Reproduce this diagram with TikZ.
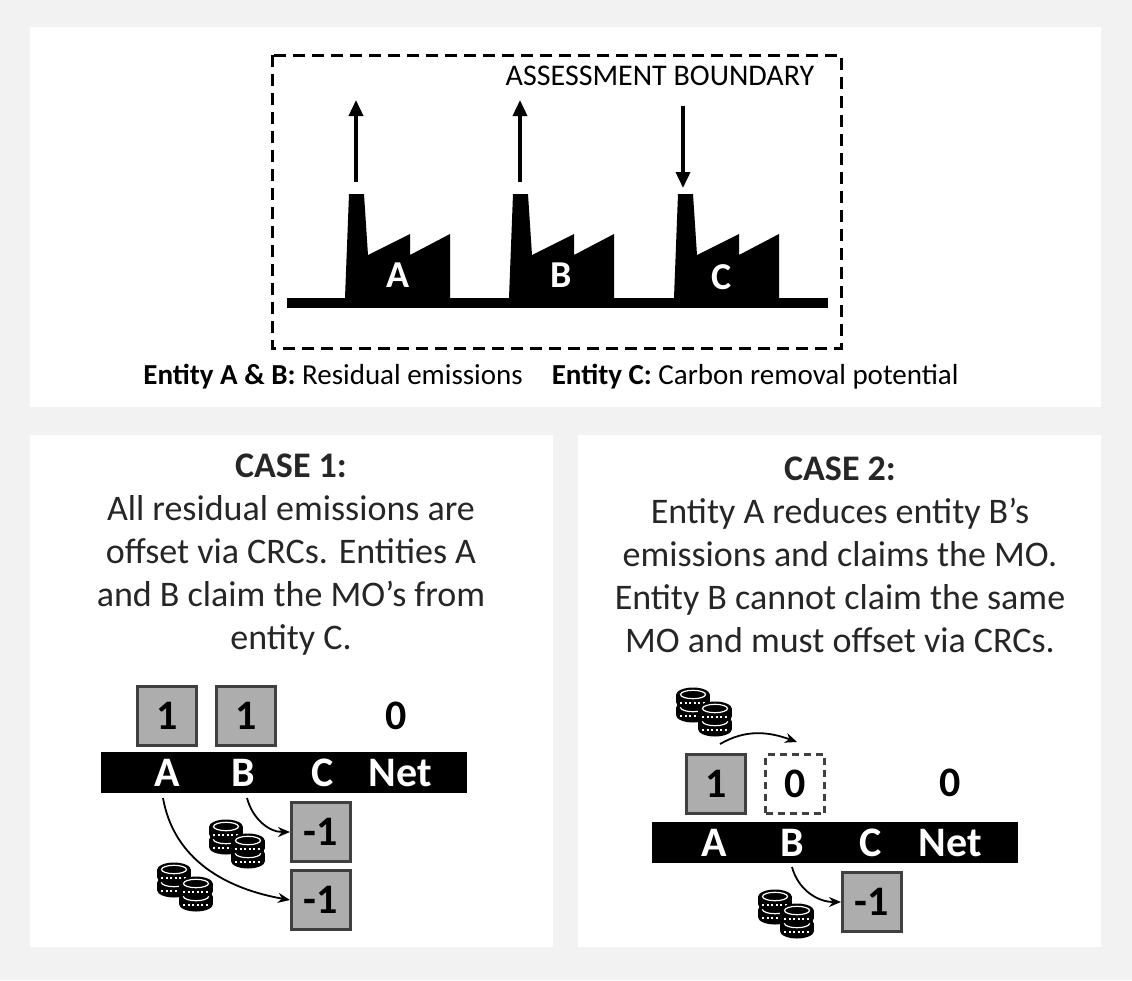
\documentclass[tikz,border=0pt]{standalone}
\usepackage{fontspec}
\setmainfont{Carlito}
\usetikzlibrary{arrows.meta}
\definecolor{bgrey}{HTML}{F2F2F2}
\definecolor{boxgrey}{HTML}{ADADAD}
\definecolor{boxline}{HTML}{404040}
\tikzset{
  panel/.style={fill=white,draw=none},
  val/.style={draw=boxline,line width=3pt,fill=boxgrey,minimum size=59pt,inner sep=0pt,font=\fontsize{42}{42}\selectfont\bfseries},
  valdash/.style={val,fill=white,dash pattern=on 7pt off 5pt,line width=2.4pt},
  bartext/.style={text=white,font=\fontsize{42}{42}\selectfont\bfseries},
  flow/.style={-{Stealth[length=12pt,width=10pt]},line width=1.8pt},
  bigarrow/.style={-{Triangle[length=16pt,width=14pt]},line width=3.5pt},
  casetext/.style={align=center,text=black!85,font=\fontsize{36}{43}\selectfont},
  coin/.pic={
    \fill[black] (-17,0) rectangle (17,7);
    \fill[black] (0,7) ellipse (17 and 7.5);
    \fill[black] (0,0) ellipse (17 and 7.5);
    \draw[white,line width=1.2pt] (0,-0.5) ellipse (12.5 and 4.2);
    \draw[white,line width=1.6pt,dash pattern=on 2pt off 2.5pt] (-13,8) -- (13,8);
  },
  coins/.pic={
    \pic at (0,13) {coin}; \pic at (0,0) {coin};
    \pic at (22,27) {coin}; \pic at (22,14) {coin};
  },
  factory/.pic={
    \fill[black] (-11,0) -- (-7,-104) -- (8,-104) -- (12,-43) -- (54,-64) -- (54,-43)
      -- (94,-64) -- (94,0) -- cycle;
  }
}
\begin{document}
\begin{tikzpicture}[x=1pt,y=-1pt]
\useasboundingbox (0,0) rectangle (1132,980);
\fill[bgrey] (0,0) rectangle (1132,980);
\fill[panel] (30,27) rectangle (1101,407);
\fill[panel] (30,435) rectangle (553,947);
\fill[panel] (578,435) rectangle (1101,947);

% assessment boundary
\draw[line width=3pt,dash pattern=on 12pt off 7pt] (272,55) rectangle (841,348);
\node[font=\fontsize{30}{30}\selectfont] (bound) at (660,76) {ASSESSMENT BOUNDARY};
\fill[black] (287,298) rectangle (828,308);
\pic at (356,298) {factory};
\pic at (520,298) {factory};
\pic at (685,298) {factory};
\node[text=white,font=\fontsize{38}{38}\selectfont\bfseries] (fa) at (398,275) {A};
\node[text=white,font=\fontsize{38}{38}\selectfont\bfseries] (fb) at (561,275) {B};
\node[text=white,font=\fontsize{38}{38}\selectfont\bfseries] (fc) at (722,277) {C};
\coordinate (a1) at (356,182); \coordinate (a2) at (356,100);
\coordinate (b1) at (520,182); \coordinate (b2) at (520,100);
\coordinate (c1) at (683,106); \coordinate (c2) at (683,188);
\draw[bigarrow] (a1) -- (a2);
\draw[bigarrow] (b1) -- (b2);
\draw[bigarrow] (c1) -- (c2);
\node[font=\fontsize{29}{29}\selectfont] (legend) at (551,377)
  {\textbf{Entity A \& B:} Residual emissions\quad\textbf{Entity C:} Carbon removal potential};

% case 1
\node[casetext] (case1) at (291,555) {\textbf{CASE 1:}\\All residual emissions are\\offset via CRCs. Entities A\\and B claim the MO's from\\entity C.};
\node[val] (oa) at (167,716) {1};
\node[val] (ob) at (246,716) {1};
\node[font=\fontsize{42}{42}\selectfont\bfseries] (onet) at (396,716) {0};
\fill[black] (101,752) rectangle (467,793);
\node[bartext] (la) at (167,773) {A};
\node[bartext] (lb) at (243,773) {B};
\node[bartext] (lc) at (323,773) {C};
\node[bartext] (lnet) at (400,773) {Net};
\node[val] (mb) at (321,832) {-1};
\node[val] (ma) at (321,900) {-1};
\pic at (226,827) {coins};
\pic at (174,870) {coins};
\draw[flow] (247,798) to[out=-75,in=180] (mb.west);
\draw[flow] (163,798) to[out=-80,in=170] (ma.west);

% case 2
\node[casetext] (case2) at (840,555) {\textbf{CASE 2:}\\Entity A reduces entity B's\\emissions and claims the MO.\\Entity B cannot claim the same\\MO and must offset via CRCs.};
\pic at (693,695) {coins};
\node[val] (pa) at (716,784) {1};
\node[valdash] (pb) at (795,784) {0};
\node[font=\fontsize{42}{42}\selectfont\bfseries] (pnet) at (950,783) {0};
\coordinate (ps) at (720,744);
\coordinate (pt) at (797,742);
\draw[flow] (ps) to[out=30,in=160] (pt);
\fill[black] (652,822) rectangle (1018,863);
\node[bartext] (qa) at (714,843) {A};
\node[bartext] (qb) at (792,843) {B};
\node[bartext] (qc) at (871,843) {C};
\node[bartext] (qnet) at (950,843) {Net};
\node[val] (qm) at (872,902) {-1};
\pic at (775,897) {coins};
\draw[flow] (792,867) to[out=-75,in=180] (qm.west);
\end{tikzpicture}
\end{document}
